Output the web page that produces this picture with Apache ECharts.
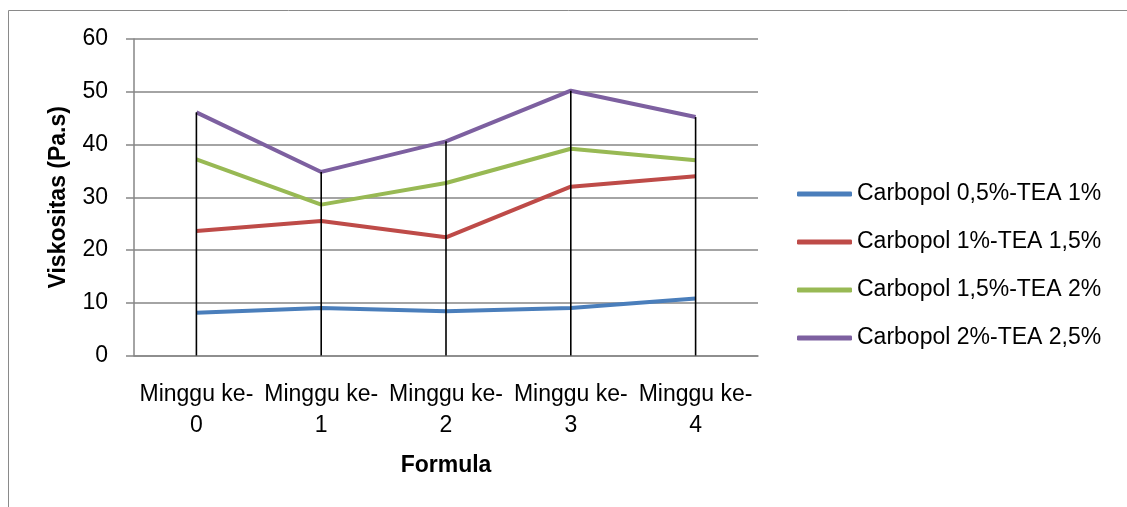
<!DOCTYPE html>
<html><head><meta charset="utf-8">
<script src="https://cdn.jsdelivr.net/npm/echarts@6/dist/echarts.min.js"></script>
<style>html,body{margin:0;padding:0;background:#fff}#c{width:1127px;height:507px}</style>
</head><body><div id="c"></div>
<script>
const categories = ['Minggu ke-\n0','Minggu ke-\n1','Minggu ke-\n2','Minggu ke-\n3','Minggu ke-\n4'];
const seriesNames = ['Carbopol 0,5%-TEA 1%','Carbopol 1%-TEA 1,5%','Carbopol 1,5%-TEA 2%','Carbopol 2%-TEA 2,5%'];
const carbopol05 = [8.1, 9.0, 8.4, 9.0, 10.8];
const carbopol1 = [23.6, 25.5, 22.4, 32.0, 34.0];
const carbopol15 = [37.2, 28.6, 32.7, 39.2, 37.0];
const carbopol2 = [46.1, 34.8, 40.6, 50.2, 45.2];
const yTicks = [0, 10, 20, 30, 40, 50, 60];
const colors = ['#4A7EBB','#BE4B48','#98B954','#7D60A0'];

const allSeries = [carbopol05, carbopol1, carbopol15, carbopol2];
const dropTop = categories.map((_, i) => Math.max(...allSeries.map(s => s[i])));

const font = '"Liberation Sans", Arial, sans-serif';
const chart = echarts.init(document.getElementById('c'));
chart.setOption({
  animation: false,
  color: colors,
  graphic: [{
    type: 'rect', shape: {x: 8.5, y: 10.5, width: 1300, height: 700},
    style: {fill: 'none', stroke: '#8a8a8a', lineWidth: 1}, silent: true, z: -10
  }],
  grid: {left: 134, right: 369, top: 39, bottom: 151.5},
  legend: {
    orient: 'vertical', left: 792, top: 176,
    data: seriesNames,
    icon: 'roundRect', itemWidth: 55, itemHeight: 5, itemGap: 22,
    textStyle: {fontFamily: font, fontSize: 23, color: '#000', lineHeight: 26}
  },
  xAxis: {
    type: 'category', data: categories, boundaryGap: true,
    axisLine: {lineStyle: {color: '#868686', width: 1.5}},
    axisTick: {show: false},
    axisLabel: {fontFamily: font, fontSize: 23, color: '#000', lineHeight: 31, margin: 24, interval: 0},
    name: 'Formula', nameLocation: 'middle', nameGap: 99,
    nameTextStyle: {fontFamily: font, fontSize: 23, fontWeight: 'bold', color: '#000'}
  },
  yAxis: {
    type: 'value', min: yTicks[0], max: yTicks[yTicks.length-1], interval: 10,
    axisLine: {show: true, lineStyle: {color: '#868686', width: 1.5}},
    axisTick: {show: true, length: 8, lineStyle: {color: '#868686', width: 1.5}},
    splitLine: {lineStyle: {color: '#868686', width: 1.5}},
    axisLabel: {fontFamily: font, fontSize: 23, color: '#000', margin: 26},
    name: 'Viskositas (Pa.s)', nameLocation: 'middle', nameGap: 64, nameRotate: 90,
    nameTextStyle: {fontFamily: font, fontSize: 23, fontWeight: 'bold', color: '#000'}
  },
  series: seriesNames.map((n, i) => ({
    name: n, type: 'line', data: allSeries[i], symbol: 'none',
    lineStyle: {width: 4, color: colors[i]}, z: 3
  })).concat([{
    name: 'drop', type: 'bar', data: dropTop, barWidth: 1.6, barGap: '-100%',
    itemStyle: {color: '#000'}, z: 4, silent: true
  }])
});
</script></body></html>
